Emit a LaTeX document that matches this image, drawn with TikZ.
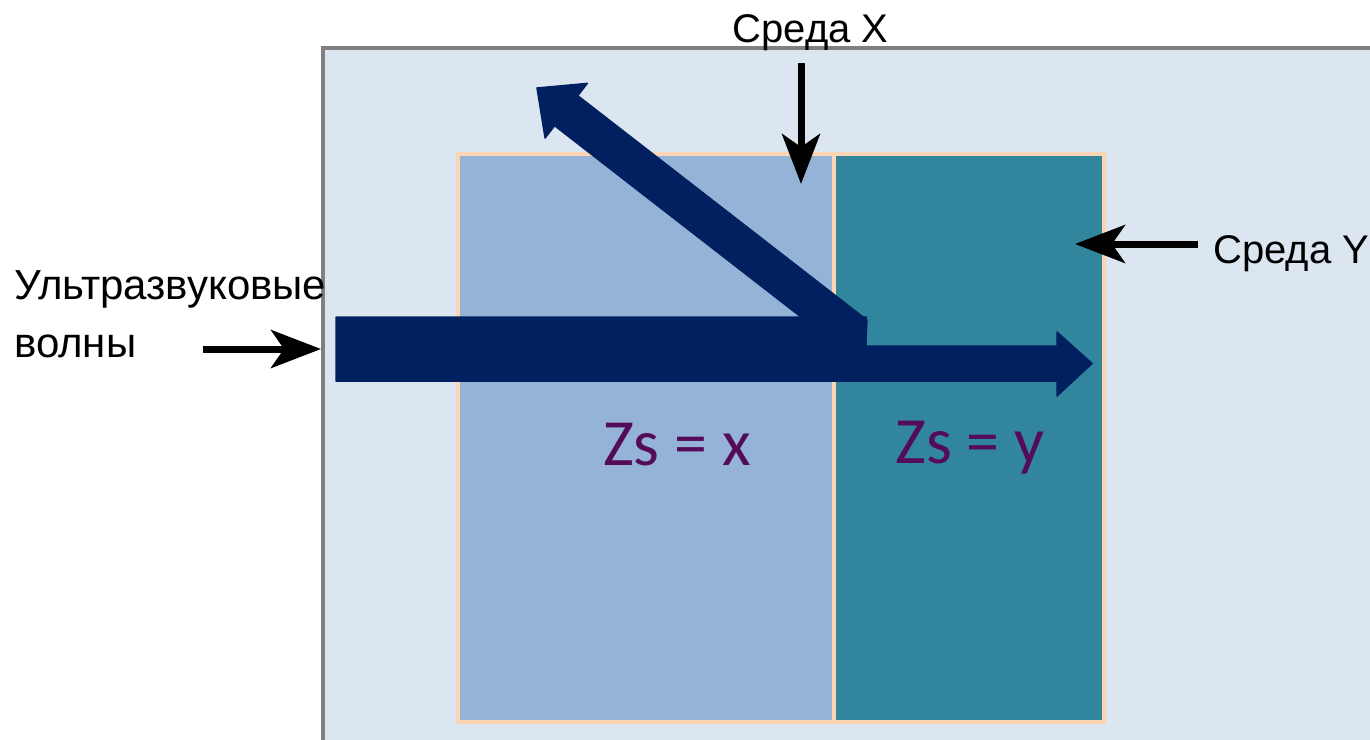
\documentclass[tikz,border=0pt]{standalone}
\usepackage{fontspec}
\setmainfont{Liberation Sans}
\newfontfamily\zsfont{Carlito}
\usetikzlibrary{arrows.meta, positioning}
\definecolor{mediumbg}{RGB}{220, 230, 241}
\definecolor{mediumx}{RGB}{149, 179, 215}
\definecolor{mediumy}{RGB}{49, 133, 156}
\definecolor{edgepeach}{RGB}{252, 213, 180}
\definecolor{frameGray}{RGB}{128, 128, 128}
\definecolor{wavenavy}{RGB}{0, 32, 96}
\definecolor{zsplum}{RGB}{84, 12, 88}

\begin{document}
\begin{tikzpicture}[
      x=1pt, y=-1pt,
      medium/.style={rectangle, draw=edgepeach, line width=4pt, minimum height=568pt, inner sep=0pt},
      caption/.style={font=\fontsize{40}{58}\selectfont, align=left, inner sep=0pt},
      zs/.style={font=\zsfont\fontsize{66}{70}\selectfont, text=zsplum, inner sep=0pt},
      pointer/.style={-{Stealth[length=50pt, width=38pt, inset=13pt]}, line width=7pt, black},
      wave/.style={fill=wavenavy, draw=wavenavy, line width=1.5pt, line join=round}
    ]
      \useasboundingbox (0, 0) rectangle (1370, 739);
      \clip (0, 0) rectangle (1370, 739);

      % background frame
      \draw[frameGray, line width=4pt, fill=mediumbg] (323, 48) rectangle (1400, 780);

      \node[medium, fill=mediumx, minimum width=376pt] (MX) at (646, 438) {};
      \node[medium, fill=mediumy, minimum width=270pt] (MY) at (969, 438) {};

      \node[zs, anchor=base] (ZX) at (677, 465) {Zs = x};
      \node[zs, anchor=base] (ZY) at (970, 463) {Zs = y};

      % incident and transmitted wave
      \fill[wave] (336, 317) -- (866, 317) -- (866, 346) -- (1057, 346) -- (1057, 332)
        -- (1092, 363.5) -- (1057, 396) -- (1057, 381) -- (336, 381) -- cycle;
      % reflected wave
      \fill[wave] (801, 317) -- (554.6, 125.7) -- (545.1, 138) -- (537, 88) -- (587.3, 83.4)
        -- (577.8, 95.7) -- (866.9, 320) -- (866, 340) -- (801, 340) -- cycle;

      \node[caption, anchor=base] (SX) at (810.5, 42) {Среда X};
      \node[caption, anchor=base west] (SY) at (1213, 263) {Среда Y};
      \node[caption, font=\fontsize{42}{58}\selectfont, anchor=base west] (US) at (14, 357) {Ультразвуковые\\волны};

      \coordinate (xfrom) at (801, 63);
      \coordinate (xto) at (801, 184);
      \coordinate (yfrom) at (1198, 244);
      \coordinate (yto) at (1075, 244);
      \coordinate (ufrom) at (203, 349);
      \coordinate (uto) at (321, 349);

      \draw[pointer] (xfrom) -- (xto);
      \draw[pointer] (yfrom) -- (yto);
      \draw[pointer] (ufrom) -- (uto);
    \end{tikzpicture}
\end{document}
